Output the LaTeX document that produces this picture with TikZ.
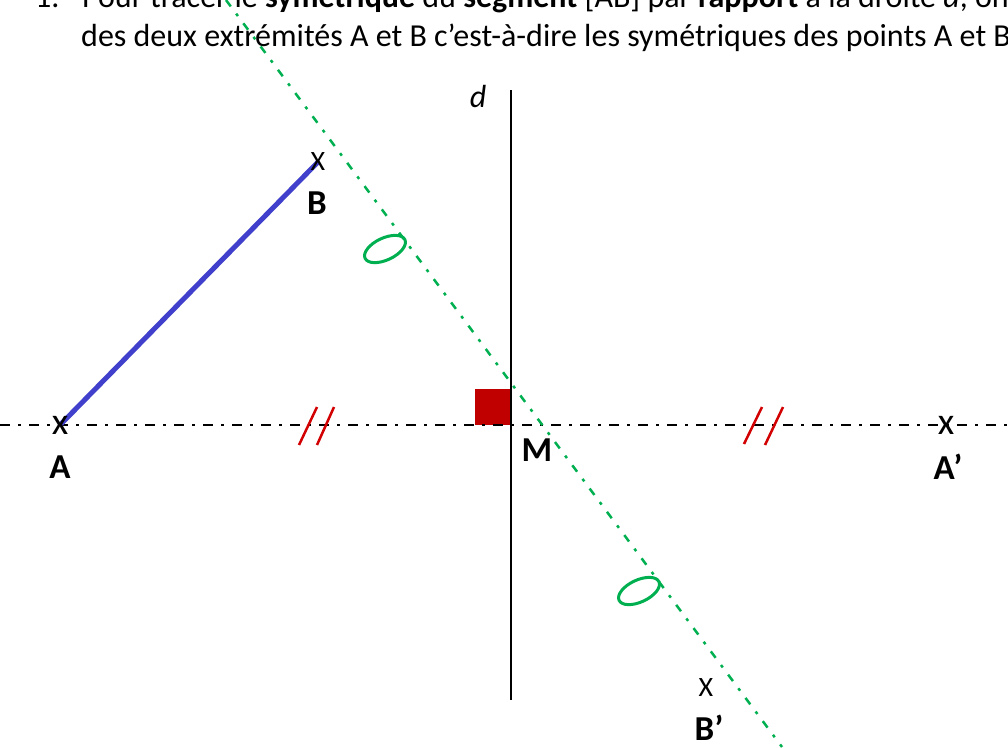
\documentclass[tikz,border=0pt]{standalone}
\usepackage{fontspec}
\setmainfont{Carlito}
\definecolor{segblue}{RGB}{64,64,204}
\definecolor{mgreen}{RGB}{0,176,80}
\definecolor{sqred}{RGB}{192,0,0}
\definecolor{slred}{RGB}{210,0,0}
\tikzset{
  txt/.style={font=\fontsize{32}{38}\selectfont, inner sep=0pt, anchor=base west},
  lbl/.style={font=\bfseries\fontsize{35}{40}\selectfont, inner sep=0pt},
  ptlow/.style={font=\fontsize{38}{40}\selectfont, inner sep=0pt},
  ptcap/.style={font=\fontsize{28}{32}\selectfont, inner sep=0pt},
  blackaxis/.style={line width=2.5pt, black, dash pattern=on 10pt off 8pt on 3pt off 8pt},
  greenaxis/.style={line width=2.5pt, mgreen, dash pattern=on 8pt off 9pt on 3pt off 9pt},
  slash/.style={line width=2.5pt, slred},
  circmark/.style={line width=3pt, mgreen},
}
\begin{document}
\begin{tikzpicture}[x=1pt,y=-1pt]
\useasboundingbox (0,0) rectangle (1008,747);
\clip (0,0) rectangle (1008,747);
% text
\node[txt] (n1) at (35,7) {1.};
\node[txt] (l1) at (82,7) {Pour tracer le \textbf{symétrique} du \textbf{segment} [AB] par \textbf{rapport} à la droite \textit{d}, on};
\node[txt] (l2) at (81,46) {des deux extrémités A et B c’est-à-dire les symétriques des points A et B};
% points
\coordinate (A) at (60,425);
\coordinate (B) at (318,162);
\coordinate (M) at (511,425);
\coordinate (Ap) at (946,425);
\coordinate (Bp) at (706,688);
\coordinate (hl) at (0,425);
\coordinate (hr) at (1008,425);
\coordinate (dt) at (511,90);
\coordinate (db) at (511,700);
\coordinate (gt) at (226,0);
\coordinate (gb) at (782,747);
% right-angle square
\fill[sqred] (475,389) rectangle (M);
% axes
\draw[blackaxis] (hl) -- (hr);
\draw[line width=2.5pt] (dt) -- (db);
\draw[greenaxis] (gt) -- (gb);
% segment
\draw[segblue, line width=5pt] (A) -- (B);
% equal-length marks
\draw[slash] (299,445) -- (317,407);
\draw[slash] (317,445) -- (334,407);
\draw[slash] (744,444) -- (762,407);
\draw[slash] (765,445) -- (783,407);
\draw[circmark, rotate around={25:(385,249)}] (385,249) ellipse [x radius=22, y radius=11];
\draw[circmark, rotate around={25:(639,591)}] (639,591) ellipse [x radius=22, y radius=11];
% point marks
\node[ptlow] (xA) at (A) {x};
\node[ptlow] (xAp) at (Ap) {x};
\node[ptcap] (xB) at (B) {X};
\node[ptcap] (xBp) at (Bp) {X};
% labels
\node[lbl] (lA) at (60,467) {A};
\node[lbl] (lB) at (317,203) {B};
\node[lbl] (lM) at (537,450) {M};
\node[lbl] (lAp) at (948,467) {A’};
\node[lbl] (lBp) at (709,728) {B’};
\node[font=\itshape\fontsize{32}{34}\selectfont, inner sep=0pt] (ld) at (478,96) {d};
\end{tikzpicture}
\end{document}
